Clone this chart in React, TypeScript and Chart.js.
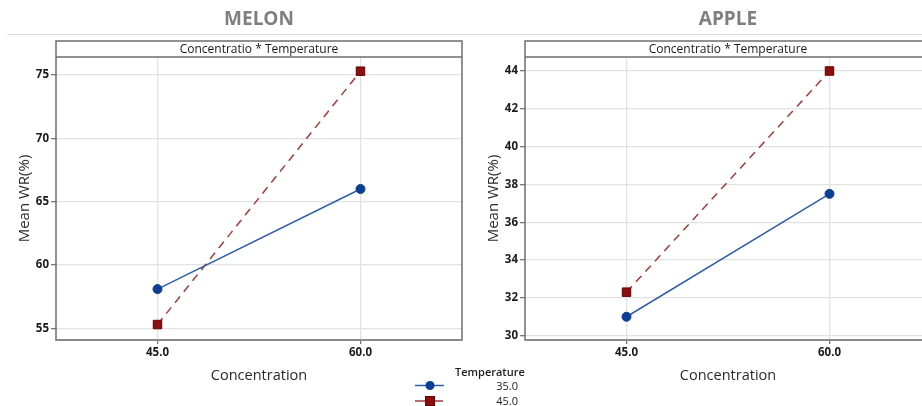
import React, { useEffect, useRef } from "react";
import { Chart, registerables } from "chart.js";

Chart.register(...registerables);

// ---- data ----
const concentrations = [45, 60];
const xTickValues = [45, 60];
const temperatureLabels = ["35.0", "45.0"];
const melonTemp35 = [58.1, 66.0];
const melonTemp45 = [55.3, 75.3];
const appleTemp35 = [31.0, 37.5];
const appleTemp45 = [32.3, 44.0];
const melonYTicks = [55, 60, 65, 70, 75];
const appleYTicks = [30, 32, 34, 36, 38, 40, 42, 44];

const FONT = '"Open Sans", "Noto Sans", sans-serif';
const BLUE_LINE = "#2f5ea8";
const BLUE_PT = "#0b3f94";
const RED_LINE = "#a33b3b";
const RED_PT = "#8c0f0f";

const framePlugin = {
  id: "frame",
  afterDraw(chart: any, _args: any, opts: any) {
    const { ctx, chartArea: a } = chart;
    const cx = (a.left + a.right) / 2;
    ctx.save();
    // panel title
    ctx.fillStyle = "#7f7f7f";
    ctx.font = `bold 19px ${FONT}`;
    ctx.textAlign = "center";
    ctx.textBaseline = "middle";
    ctx.fillText(opts.title, cx, 20);
    // strip text
    ctx.fillStyle = "#1a1a1a";
    ctx.font = `12px ${FONT}`;
    ctx.fillText(opts.strip, cx, 49.5);
    // frame
    ctx.strokeStyle = "#6e6e6e";
    ctx.lineWidth = 1.5;
    ctx.beginPath();
    ctx.moveTo(a.left, a.bottom);
    ctx.lineTo(a.left, 41);
    ctx.lineTo(a.right, 41);
    ctx.lineTo(a.right, a.bottom);
    ctx.moveTo(a.left, a.top);
    ctx.lineTo(a.right, a.top);
    ctx.stroke();
    ctx.strokeStyle = "#8a8a8a";
    ctx.lineWidth = 2;
    ctx.beginPath();
    ctx.moveTo(a.left - 0.75, a.bottom);
    ctx.lineTo(a.right + 0.75, a.bottom);
    ctx.stroke();
    ctx.restore();
  },
};

type PanelProps = {
  left: number;
  title: string;
  s35: number[];
  s45: number[];
  yMin: number;
  yMax: number;
  yTicks: number[];
};

function Panel({ left, title, s35, s45, yMin, yMax, yTicks }: PanelProps) {
  const ref = useRef<HTMLCanvasElement | null>(null);
  useEffect(() => {
    if (!ref.current) return;
    const chart = new Chart(ref.current, {
      type: "line",
      data: {
        datasets: [
          {
            label: temperatureLabels[0],
            data: concentrations.map((c, i) => ({ x: c, y: s35[i] })),
            borderColor: BLUE_LINE,
            borderWidth: 1.5,
            pointStyle: "circle",
            pointRadius: 4.5,
            pointBackgroundColor: BLUE_PT,
            pointBorderColor: BLUE_PT,
            pointBorderWidth: 1,
          },
          {
            label: temperatureLabels[1],
            data: concentrations.map((c, i) => ({ x: c, y: s45[i] })),
            borderColor: RED_LINE,
            borderWidth: 1.5,
            borderDash: [8, 6],
            pointStyle: "rect",
            pointRadius: 6,
            pointBackgroundColor: RED_PT,
            pointBorderColor: "#6a0000",
            pointBorderWidth: 1,
          },
        ],
      },
      options: {
        animation: false,
        responsive: false,
        layout: { padding: { top: 57, right: 8, left: 0, bottom: 0 } },
        plugins: {
          legend: { display: false },
          tooltip: { enabled: false },
          frame: { title, strip: "Concentratio * Temperature" },
        } as any,
        scales: {
          x: {
            type: "linear",
            min: 37.5,
            max: 67.5,
            afterFit: (s: any) => {
              s.height = 66;
            },
            afterBuildTicks: (s: any) => {
              s.ticks = xTickValues.map((v) => ({ value: v }));
            },
            ticks: {
              callback: (v: any) => Number(v).toFixed(1),
              color: "#1a1a1a",
              font: { family: FONT, size: 11.5, weight: "bold" },
              padding: 2,
              maxRotation: 0,
            },
            grid: { color: "#e2e2e2", lineWidth: 1.3, tickColor: "#777", tickLength: 4 },
            border: { display: false },
            title: {
              display: true,
              text: "Concentration",
              color: "#2a2a2a",
              font: { family: FONT, size: 14.5 },
              padding: { top: 0, bottom: 21 },
            },
          },
          y: {
            type: "linear",
            min: yMin,
            max: yMax,
            afterFit: (s: any) => {
              s.width = 56;
            },
            afterBuildTicks: (s: any) => {
              s.ticks = yTicks.map((v) => ({ value: v }));
            },
            ticks: {
              color: "#1a1a1a",
              font: { family: FONT, size: 11.5, weight: "bold" },
              padding: 2,
            },
            grid: { color: "#e2e2e2", lineWidth: 1.3, tickColor: "#777", tickLength: 5 },
            border: { display: false },
            title: {
              display: true,
              text: "Mean WR(%)",
              color: "#2a2a2a",
              font: { family: FONT, size: 15 },
              padding: { top: 16, bottom: 0 },
            },
          },
        },
      } as any,
      plugins: [framePlugin as any],
    });
    return () => chart.destroy();
  }, []);
  return (
    <canvas
      ref={ref}
      width={470}
      height={406}
      style={{ position: "absolute", left, top: 0, width: 470, height: 406 }}
    />
  );
}

function Legend() {
  const txt: React.CSSProperties = {
    position: "absolute",
    fontFamily: FONT,
    fontSize: 11,
    color: "#222",
    lineHeight: "14px",
    whiteSpace: "nowrap",
  };
  return (
    <>
      <div style={{ ...txt, left: 455, top: 365, fontWeight: 600 }}>Temperature</div>
      <div style={{ ...txt, left: 480, width: 38, textAlign: "right", top: 379 }}>{temperatureLabels[0]}</div>
      <div style={{ ...txt, left: 480, width: 38, textAlign: "right", top: 394 }}>{temperatureLabels[1]}</div>
      <svg width={40} height={30} style={{ position: "absolute", left: 410, top: 378 }}>
        <line x1={5} y1={7.5} x2={34} y2={7.5} stroke={BLUE_LINE} strokeWidth={1.5} />
        <circle cx={20} cy={7.5} r={4.5} fill={BLUE_PT} />
        <line x1={5} y1={23} x2={33} y2={23} stroke={RED_LINE} strokeWidth={1.5} />
        <rect x={15.5} y={18.5} width={9} height={9} fill={RED_PT} stroke="#6a0000" strokeWidth={1} />
      </svg>
    </>
  );
}

export default function App() {
  return (
    <div
      style={{
        position: "fixed",
        left: 0,
        top: 0,
        width: 922,
        height: 406,
        overflow: "hidden",
        background: "#fff",
      }}
    >
      <div style={{ position: "absolute", left: 7, top: 34, width: 915, height: 1, background: "#dcdcdc" }} />
      <Panel left={0} title="MELON" s35={melonTemp35} s45={melonTemp45} yMin={54.08} yMax={76.42} yTicks={melonYTicks} />
      <Panel left={469} title="APPLE" s35={appleTemp35} s45={appleTemp45} yMin={29.77} yMax={44.74} yTicks={appleYTicks} />
      <Legend />
    </div>
  );
}
